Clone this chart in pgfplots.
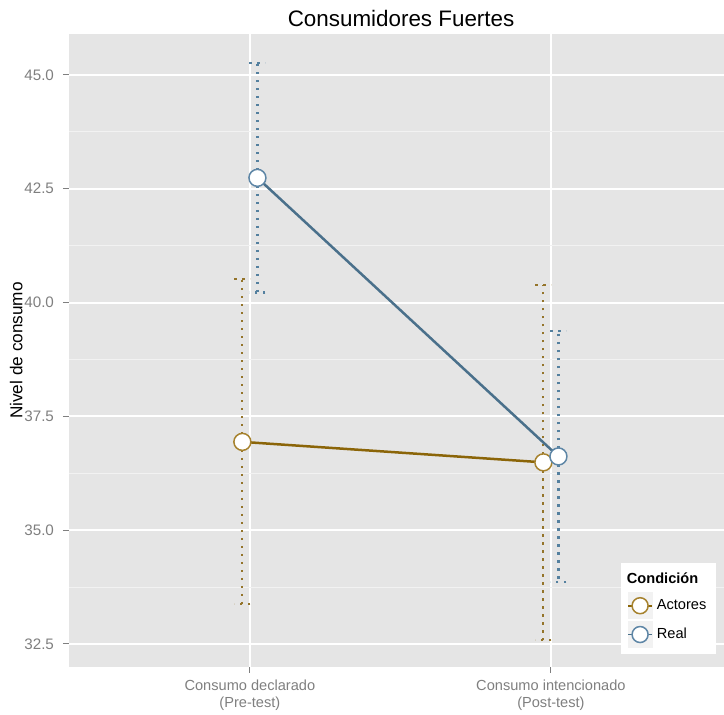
\documentclass[border=0pt]{standalone}
\usepackage{fontspec}
\setmainfont{Liberation Sans}
\usepackage{pgfplots}
\pgfplotsset{compat=1.18}
\definecolor{bg}{HTML}{E5E5E5}
\definecolor{minorg}{HTML}{F2F2F2}
\definecolor{tickc}{HTML}{7F7F7F}
\definecolor{actline}{HTML}{8B6508}
\definecolor{actpt}{HTML}{A6822E}
\definecolor{acterr}{HTML}{94742A}
\definecolor{realline}{HTML}{4A708B}
\definecolor{realpt}{HTML}{5E86A6}
\definecolor{realerr}{HTML}{54809F}
\definecolor{keybg}{HTML}{F2F2F2}
\begin{document}
\begin{tikzpicture}
\begin{axis}[
  name=ax,
  scale only axis, width=327.5pt, height=316.5pt,
  xmin=0.399, xmax=2.575, ymin=31.995, ymax=45.90,
  axis background/.style={fill=bg},
  axis line style={draw=none},
  /pgf/number format/assume math mode=true,
  xtick={1,2},
  xticklabels={{Consumo declarado\\(Pre-test)},{Consumo intencionado\\(Post-test)}},
  xticklabel style={align=center, text=tickc, font=\fontsize{7.3}{8.5}\selectfont},
  ytick={32.5,35,37.5,40,42.5,45},
  minor ytick={33.75,36.25,38.75,41.25,43.75},
  yticklabel style={/pgf/number format/.cd, fixed, fixed zerofill, precision=1, /tikz/.cd, text=tickc, font=\fontsize{7.6}{9}\selectfont, xshift=-1pt},
  ymajorgrids, yminorgrids, xmajorgrids,
  major grid style={white, line width=1pt},
  minor grid style={minorg, line width=0.5pt},
  tick pos=left, tick align=outside,
  major tick length=3pt, minor tick length=0pt,
  tick style={tickc, line width=0.5pt},
  title={Consumidores Fuertes},
  title style={at={(axis description cs:0.507,1)}, anchor=base, yshift=-2.5pt, font=\fontsize{11.2}{13}\selectfont},
  ylabel={Nivel de consumo},
  ylabel style={font=\fontsize{8.6}{10}\selectfont, yshift=-6pt},
  legend style={at={(axis description cs:0.989,0.02)}, anchor=south east, draw=none, fill=white,
    font=\fontsize{7.3}{9}\selectfont, row sep=1pt, inner sep=3pt},
  legend cell align=left,
]
\addlegendimage{empty legend}
\addlegendentry{\hspace{-15pt}\textbf{Condición}}
% error bars
\addplot[draw=none, forget plot, error bars/.cd, y dir=both, y explicit,
  error mark=-, error mark options={acterr, mark size=4pt, line width=1.1pt, dash pattern=on 1.1pt off 2.9pt, rotate=90},
  error bar style={acterr, line width=1.1pt, dash pattern=on 1.1pt off 2.9pt}]
  coordinates {(0.975,36.94) +- (0,3.57) (1.975,36.49) +- (0,3.895)};
\addplot[draw=none, forget plot, error bars/.cd, y dir=both, y explicit,
  error mark=-, error mark options={realerr, mark size=4pt, line width=1.1pt, dash pattern=on 1.1pt off 2.9pt, rotate=90},
  error bar style={realerr, line width=1.1pt, dash pattern=on 1.1pt off 2.9pt}]
  coordinates {(1.025,42.74) +- (0,2.52) (2.025,36.62) +- (0,2.75)};
% lines
\addplot[forget plot, actline, line width=1.25pt, no marks] coordinates {(0.975,36.94) (1.975,36.49)};
\addplot[forget plot, realline, line width=1.25pt, no marks] coordinates {(1.025,42.74) (2.025,36.62)};
% points
\addplot[only marks, mark=*, mark size=4.25pt, mark options={fill=white, draw=actpt, line width=0.75pt},
  legend image code/.code={
    \fill[keybg] (-6pt,-6.5pt) rectangle (6pt,6.5pt);
    \draw[actline, line width=0.8pt] (-6pt,0) -- (6pt,0);
    \draw[actpt, fill=white, line width=0.75pt] (0,0) circle (4pt);}]
  coordinates {(0.975,36.94) (1.975,36.49)};
\addlegendentry{Actores}
\addplot[only marks, mark=*, mark size=4.25pt, mark options={fill=white, draw=realpt, line width=0.75pt},
  legend image code/.code={
    \fill[keybg] (-6pt,-6.5pt) rectangle (6pt,6.5pt);
    \draw[realline, line width=0.8pt] (-6pt,0) -- (6pt,0);
    \draw[realpt, fill=white, line width=0.75pt] (0,0) circle (4pt);}]
  coordinates {(1.025,42.74) (2.025,36.62)};
\addlegendentry{Real}
\end{axis}
\pgfresetboundingbox
\path[use as bounding box] ([xshift=-34.5pt,yshift=-24pt]ax.south west) rectangle ([yshift=17pt]ax.north east);
\end{tikzpicture}
\end{document}
